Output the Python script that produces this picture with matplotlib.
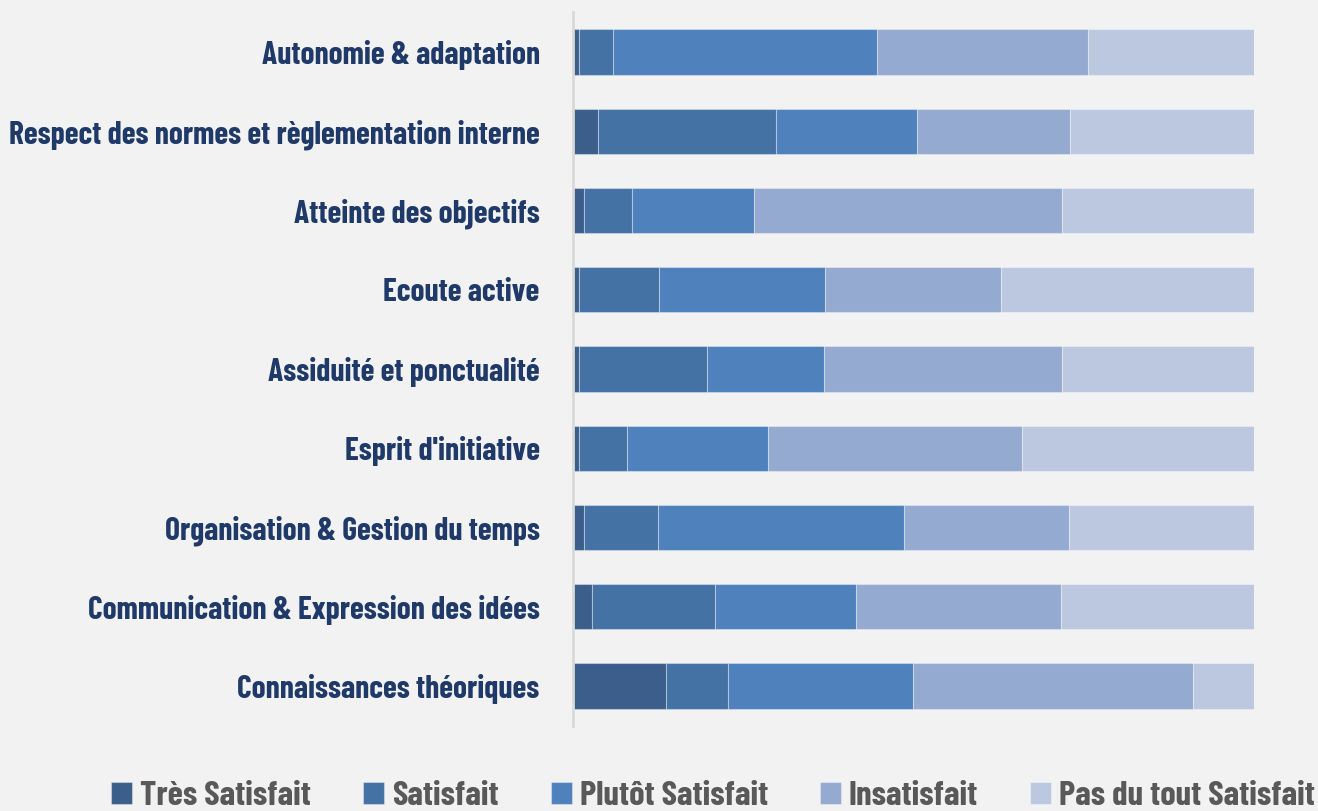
import numpy as np
import matplotlib
matplotlib.use("Agg")
import matplotlib.pyplot as plt
from matplotlib.font_manager import FontProperties

# Catégories (de haut en bas) et parts de réponses (%)
categories = [
    "Autonomie & adaptation",
    "Respect des normes et règlementation interne",
    "Atteinte des objectifs",
    "Ecoute active",
    "Assiduité et ponctualité",
    "Esprit d'initiative",
    "Organisation & Gestion du temps",
    "Communication & Expression des idées",
    "Connaissances théoriques",
]
tres_satisfait = [0.8, 3.6, 1.6, 0.8, 0.8, 0.8, 1.6, 2.8, 13.7]
satisfait      = [5.1, 26.3, 7.1, 11.8, 18.8, 7.1, 10.9, 18.0, 9.1]
plutot         = [38.8, 20.7, 17.9, 24.4, 17.3, 20.8, 36.1, 20.8, 27.1]
insatisfait    = [31.0, 22.4, 45.1, 25.9, 34.9, 37.2, 24.3, 30.1, 41.2]
pas_du_tout    = [24.3, 27.1, 28.2, 37.1, 28.2, 34.1, 27.1, 28.3, 8.9]

series = [
    ("Très Satisfait", tres_satisfait, "#3B5E8B"),
    ("Satisfait", satisfait, "#4472A5"),
    ("Plutôt Satisfait", plutot, "#4F81BD"),
    ("Insatisfait", insatisfait, "#95AAD0"),
    ("Pas du tout Satisfait", pas_du_tout, "#BCC8E0"),
]

BG = "#F2F2F2"
FAMILY = ["Barlow Condensed", "Roboto Condensed", "DejaVu Sans"]
label_font = FontProperties(family=FAMILY, weight="bold", size=22.7)
legend_font = FontProperties(family=FAMILY, weight="bold", size=25)

fig = plt.figure(figsize=(13.18, 8.11), dpi=100, facecolor=BG)
ax = fig.add_axes([0.4348, 0.1053, 0.5166, 0.8794], facecolor=BG)

y = np.arange(len(categories))
totals = np.sum([s[1] for s in series], axis=0)
left = np.zeros(len(categories))
for name, vals, col in series:
    frac = np.asarray(vals, dtype=float) / totals
    ax.barh(y, frac, left=left, height=0.57, color=col, label=name,
            edgecolor=(1, 1, 1, 0.35), linewidth=0.8)
    left += frac

ax.set_xlim(0, 1)
ax.set_ylim(len(categories) - 0.5, -0.5)
ax.set_yticks(y)
ax.set_yticklabels(categories, fontproperties=label_font, color="#1F3A68")
ax.tick_params(axis="y", length=0, pad=24)
ax.set_xticks([])
for side in ("top", "right", "bottom"):
    ax.spines[side].set_visible(False)
ax.spines["left"].set_color("#D9D9D9")
ax.spines["left"].set_linewidth(2)

leg = fig.legend(loc="lower center", bbox_to_anchor=(0.541, -0.026), ncol=5,
                 frameon=False, prop=legend_font, handlelength=0.6,
                 handleheight=0.6, handletextpad=0.23, columnspacing=1.5,
                 borderaxespad=0.2)
for t in leg.get_texts():
    t.set_color("#595959")

fig.savefig("out.png", dpi=100, facecolor=BG)
